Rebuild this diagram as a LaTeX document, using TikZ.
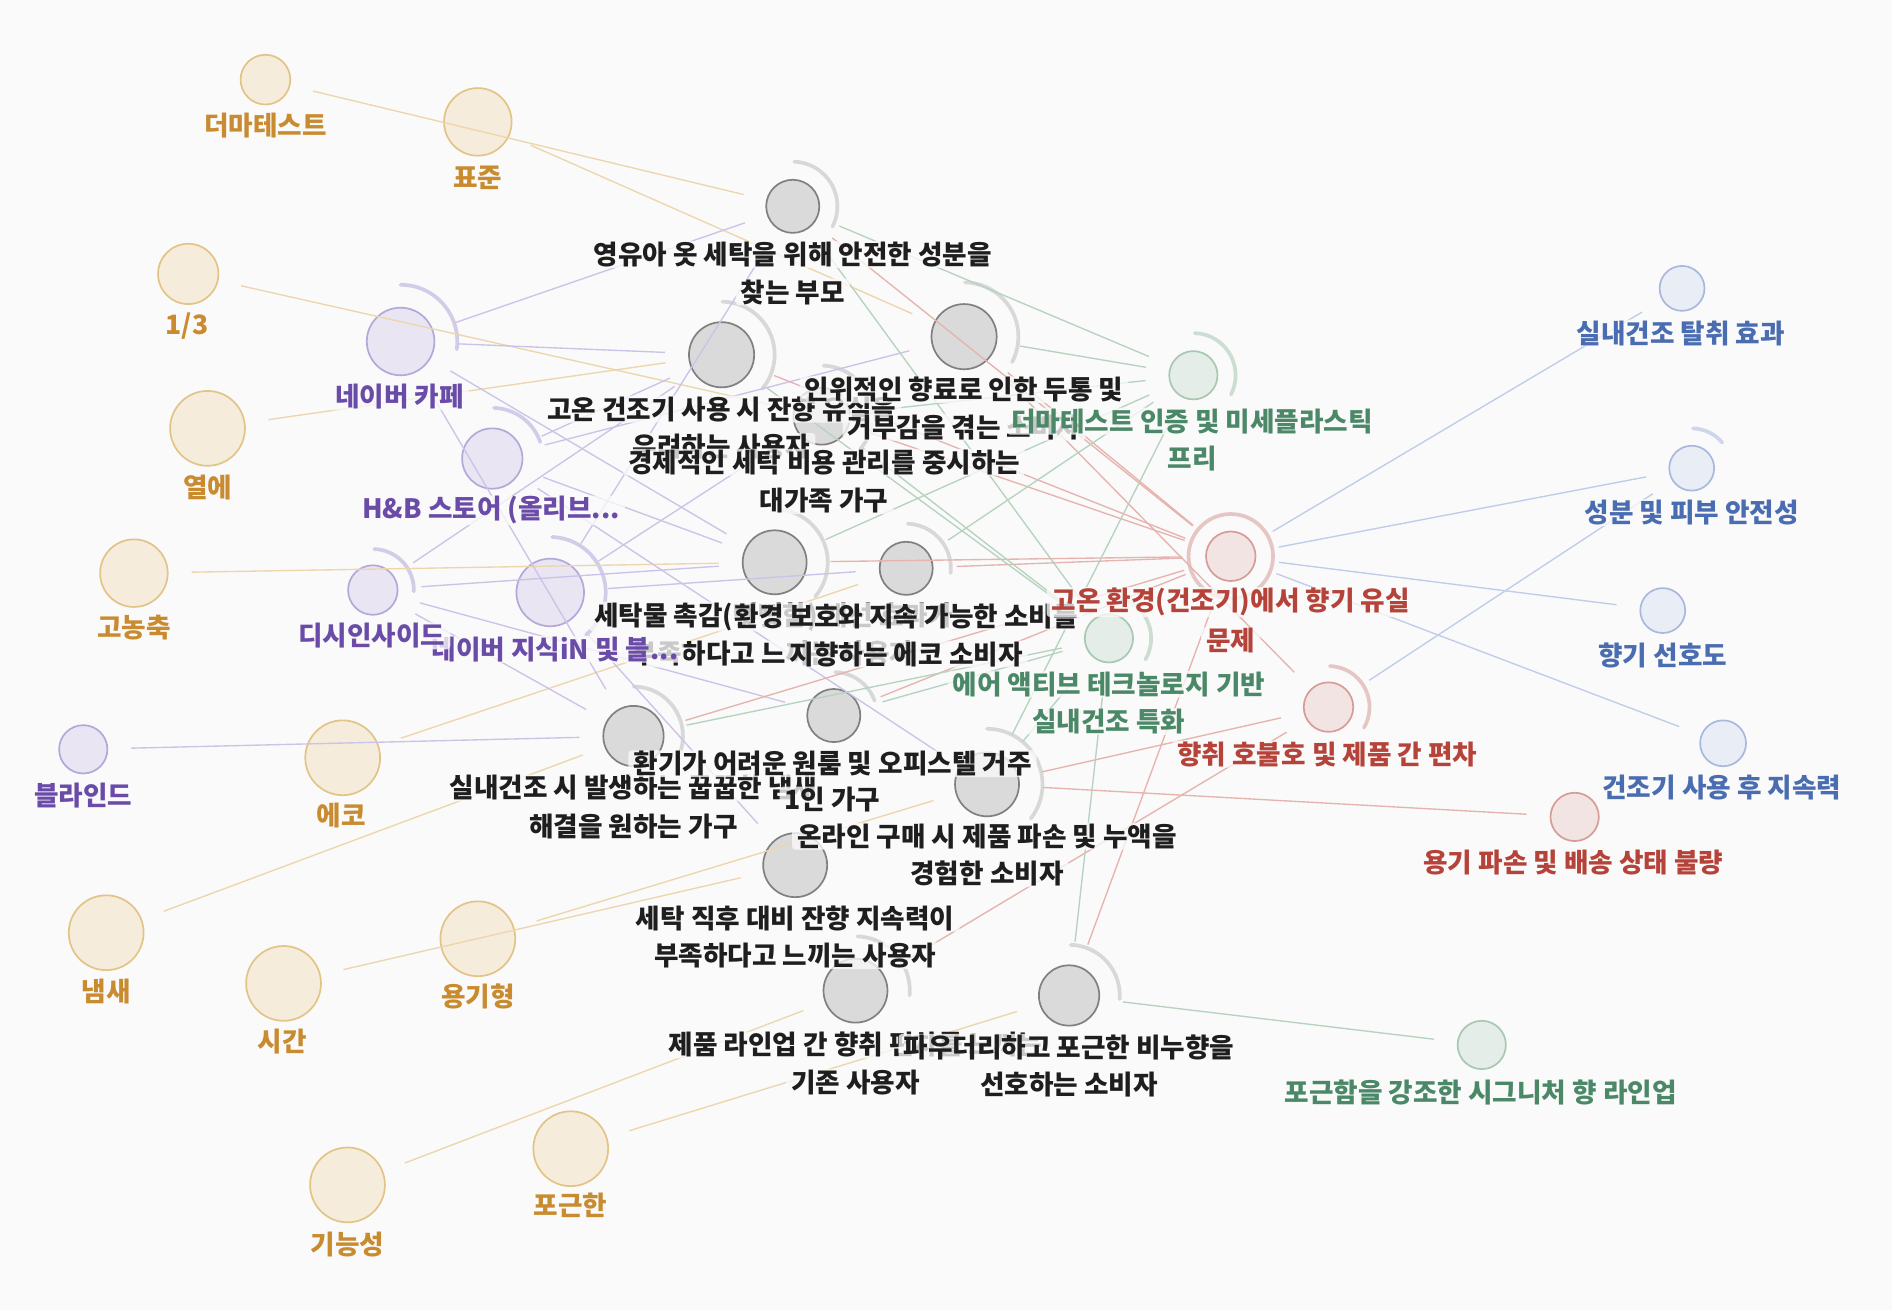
\documentclass[tikz,border=0pt]{standalone}
\usepackage{fontspec}
\setmainfont{Noto Sans CJK KR}
\usepackage{tikz}
\definecolor{bgc}{HTML}{FAFAFA}
\definecolor{kwfill}{HTML}{F5ECDC}
\definecolor{kwline}{HTML}{E3C487}
\definecolor{kwtext}{HTML}{C98B30}
\definecolor{kwedgec}{HTML}{EDD6AC}
\definecolor{chfill}{HTML}{E9E5F2}
\definecolor{chline}{HTML}{B4A8DA}
\definecolor{chtext}{HTML}{6A4CA8}
\definecolor{chedgec}{HTML}{CBC3E8}
\definecolor{pefill}{HTML}{DADADA}
\definecolor{peline}{HTML}{808080}
\definecolor{petext}{HTML}{1E1E1E}
\definecolor{pearc}{HTML}{BDBDBD}
\definecolor{fefill}{HTML}{E4EDE7}
\definecolor{feline}{HTML}{A8C8B2}
\definecolor{fetext}{HTML}{4B8867}
\definecolor{feedgec}{HTML}{B6D3BF}
\definecolor{pafill}{HTML}{F3E4E4}
\definecolor{paline}{HTML}{D69C98}
\definecolor{patext}{HTML}{B5433A}
\definecolor{paedgec}{HTML}{E6B4AE}
\definecolor{nefill}{HTML}{E9EDF5}
\definecolor{neline}{HTML}{A9B9DD}
\definecolor{netext}{HTML}{4A6CB0}
\definecolor{needgec}{HTML}{BFCCEA}
\tikzset{
    kwnode/.style={circle, draw=kwline, fill=kwfill, line width=1pt, inner sep=0pt, minimum size=#1*0.05cm},
    chnode/.style={circle, draw=chline, fill=chfill, line width=1pt, inner sep=0pt, minimum size=#1*0.05cm},
    penode/.style={circle, draw=peline, fill=pefill, line width=1pt, inner sep=0pt, minimum size=#1*0.05cm},
    fenode/.style={circle, draw=feline, fill=fefill, line width=1pt, inner sep=0pt, minimum size=#1*0.05cm},
    panode/.style={circle, draw=paline, fill=pafill, line width=1pt, inner sep=0pt, minimum size=#1*0.05cm},
    nenode/.style={circle, draw=neline, fill=nefill, line width=1pt, inner sep=0pt, minimum size=#1*0.05cm},
    halo/.style={draw=#1, line width=2.2pt, line cap=round, opacity=0.55},
    link/.style={draw=#1, line width=0.8pt, shorten <=0.48cm, shorten >=0.48cm},
    kwedge/.style={link=kwedgec},
    chedge/.style={link=chedgec},
    paedge/.style={link=paedgec},
    feedge/.style={link=feedgec},
    needge/.style={link=needgec},
    lbl/.style={fill=bgc, fill opacity=0.78, text opacity=1, rounded corners=2pt,
        inner xsep=3pt, inner ysep=0.5pt,
        font=\bfseries\fontsize{15.7}{22.4}\selectfont},
    kwlabel/.style={lbl, text=kwtext},
    chlabel/.style={lbl, text=chtext},
    pelabel/.style={lbl, text=petext},
    felabel/.style={lbl, text=fetext},
    palabel/.style={lbl, text=patext},
    nelabel/.style={lbl, text=netext},
}

\begin{document}
\begin{tikzpicture}[x=0.025cm, y=0.025cm]
\fill[bgc] (0,0) rectangle (1568,-1086);
\useasboundingbox (0,0) rectangle (1568,-1086);

% keywords
\node[kwnode=20.6] (dermatest) at (220,-66) {};
\node[kwnode=28] (pyojun) at (396,-101) {};
\node[kwnode=25] (onethird) at (156,-227) {};
\node[kwnode=31] (yeole) at (172,-355) {};
\node[kwnode=28] (gonong) at (111,-475) {};
\node[kwnode=31] (eco) at (284,-628) {};
\node[kwnode=31] (naemsae) at (88,-773) {};
\node[kwnode=31] (sigan) at (235,-815) {};
\node[kwnode=31] (yonggi) at (396,-778) {};
\node[kwnode=31] (gineung) at (288,-982) {};
\node[kwnode=31] (pogeun) at (473,-952) {};

% channels
\node[chnode=28] (cafe) at (332,-283) {};
\node[chnode=25] (hnb) at (408,-380) {};
\node[chnode=20.5] (dcinside) at (309,-489) {};
\node[chnode=28] (jisikin) at (456,-491) {};
\node[chnode=20] (blind) at (69,-621) {};

% personas
\node[penode=22] (baby) at (657,-171) {};
\node[penode=27] (dryloss) at (598,-294) {};
\node[penode=27] (headache) at (799,-279) {};
\node[penode=23.5] (economy) at (681,-345) {};
\node[penode=26.5] (texture) at (642,-466) {};
\node[penode=22] (ecoconsumer) at (751,-471) {};
\node[penode=25] (indoor) at (525,-610) {};
\node[penode=22] (single) at (691,-593) {};
\node[penode=26.5] (online) at (818,-650) {};
\node[penode=26.5] (lasting) at (659,-717) {};
\node[penode=26.5] (lineup) at (709,-821) {};
\node[penode=25] (powdery) at (886,-825) {};

% features, pains, needs
\node[fenode=20] (dermafree) at (989,-311) {};
\node[fenode=20] (airactive) at (919,-529) {};
\node[fenode=20] (signature) at (1228,-866) {};
\node[panode=20.5] (heatloss) at (1020,-461) {};
\node[panode=20.5] (prefgap) at (1101,-586) {};
\node[panode=20] (damage) at (1305,-677) {};
\node[nenode=18.6] (deodor) at (1394,-239) {};
\node[nenode=18.6] (safety) at (1402,-388) {};
\node[nenode=18.6] (scentpref) at (1378,-506) {};
\node[nenode=19] (afterdry) at (1428,-616) {};

% rings
\draw[halo=pearc] (baby.center) ++(88:37) arc[start angle=88, end angle=-27, radius=37];
\draw[halo=pearc] (dryloss.center) ++(89:44) arc[start angle=89, end angle=-40, radius=44];
\draw[halo=pearc] (headache.center) ++(89:45) arc[start angle=89, end angle=-28, radius=45];
\draw[halo=pearc] (economy.center) ++(88:42) arc[start angle=88, end angle=-41, radius=42];
\draw[halo=pearc] (texture.center) ++(85:44) arc[start angle=85, end angle=-40, radius=44];
\draw[halo=pearc] (ecoconsumer.center) ++(88:37) arc[start angle=88, end angle=-6, radius=37];
\draw[halo=pearc] (indoor.center) ++(90:41) arc[start angle=90, end angle=-20, radius=41];
\draw[halo=pearc] (single.center) ++(88:36) arc[start angle=88, end angle=20, radius=36];
\draw[halo=pearc] (online.center) ++(90:46) arc[start angle=90, end angle=-38, radius=46];
\draw[halo=pearc] (lineup.center) ++(88:45) arc[start angle=88, end angle=-5, radius=45];
\draw[halo=pearc] (powdery.center) ++(88:42) arc[start angle=88, end angle=-4, radius=42];
\draw[halo=chline] (cafe.center) ++(90:47) arc[start angle=90, end angle=-8, radius=47];
\draw[halo=chline] (hnb.center) ++(88:42) arc[start angle=88, end angle=19, radius=42];
\draw[halo=chline] (dcinside.center) ++(88:34) arc[start angle=88, end angle=-2, radius=34];
\draw[halo=chline] (jisikin.center) ++(88:46) arc[start angle=88, end angle=-50, radius=46];
\draw[halo=feline] (dermafree.center) ++(88:35) arc[start angle=88, end angle=-27, radius=35];
\draw[halo=feline] (airactive.center) ++(80:35) arc[start angle=80, end angle=-30, radius=35];
\draw[halo=paline] (heatloss.center) circle[radius=35];
\draw[halo=paline] (prefgap.center) ++(88:34) arc[start angle=88, end angle=-30, radius=34];
\draw[halo=neline] (safety.center) ++(88:33) arc[start angle=88, end angle=40, radius=33];

% links
\draw[kwedge] (dermatest) -- (baby);
\draw[kwedge] (pyojun) -- (headache);
\draw[kwedge] (onethird) -- (economy);
\draw[kwedge] (yeole) -- (dryloss);
\draw[kwedge] (gonong) -- (texture);
\draw[kwedge] (eco) -- (ecoconsumer);
\draw[kwedge] (naemsae) -- (indoor);
\draw[kwedge] (sigan) -- (lasting);
\draw[kwedge] (yonggi) -- (online);
\draw[kwedge] (gineung) -- (lineup);
\draw[kwedge] (pogeun) -- (powdery);

\draw[chedge] (cafe) -- (baby);
\draw[chedge] (cafe) -- (dryloss);
\draw[chedge] (cafe) -- (texture);
\draw[chedge] (cafe) -- (indoor);
\draw[chedge] (hnb) -- (dryloss);
\draw[chedge] (hnb) -- (headache);
\draw[chedge] (hnb) -- (texture);
\draw[chedge] (hnb) -- (online);
\draw[chedge] (dcinside) -- (dryloss);
\draw[chedge] (dcinside) -- (texture);
\draw[chedge] (dcinside) -- (indoor);
\draw[chedge] (dcinside) -- (single);
\draw[chedge] (jisikin) -- (baby);
\draw[chedge] (jisikin) -- (economy);
\draw[chedge] (jisikin) -- (ecoconsumer);
\draw[chedge] (jisikin) -- (lasting);
\draw[chedge] (blind) -- (indoor);

\draw[paedge] (baby) -- (heatloss);
\draw[paedge] (headache) -- (heatloss);
\draw[paedge] (dryloss) -- (heatloss);
\draw[paedge] (economy) -- (heatloss);
\draw[paedge] (texture) -- (heatloss);
\draw[paedge] (ecoconsumer) -- (heatloss);
\draw[paedge] (indoor) -- (heatloss);
\draw[paedge] (single) -- (heatloss);
\draw[paedge] (powdery) -- (heatloss);
\draw[paedge] (headache) -- (prefgap);
\draw[paedge] (lineup) -- (prefgap);
\draw[paedge] (online) -- (prefgap);
\draw[paedge] (online) -- (damage);

\draw[feedge] (baby) -- (dermafree);
\draw[feedge] (headache) -- (dermafree);
\draw[feedge] (economy) -- (dermafree);
\draw[feedge] (texture) -- (dermafree);
\draw[feedge] (ecoconsumer) -- (dermafree);
\draw[feedge] (online) -- (dermafree);
\draw[feedge] (indoor) -- (airactive);
\draw[feedge] (single) -- (airactive);
\draw[feedge] (economy) -- (airactive);
\draw[feedge] (dryloss) -- (airactive);
\draw[feedge] (baby) -- (airactive);
\draw[feedge] (online) -- (airactive);
\draw[feedge] (powdery) -- (airactive);
\draw[feedge] (powdery) -- (signature);

\draw[needge] (heatloss) -- (deodor);
\draw[needge] (heatloss) -- (safety);
\draw[needge] (heatloss) -- (scentpref);
\draw[needge] (heatloss) -- (afterdry);
\draw[needge] (prefgap) -- (safety);

% labels
\node[kwlabel] (dermatest-l) at (220,-104) {더마테스트};
\node[kwlabel] (pyojun-l) at (396,-147) {표준};
\node[kwlabel] (onethird-l) at (155,-270) {1/3};
\node[kwlabel] (yeole-l) at (172,-404) {열에};
\node[kwlabel] (gonong-l) at (111,-520) {고농축};
\node[kwlabel] (eco-l) at (283,-676) {에코};
\node[kwlabel] (naemsae-l) at (88,-822) {냄새};
\node[kwlabel] (sigan-l) at (234,-863) {시간};
\node[kwlabel] (yonggi-l) at (396,-826) {용기형};
\node[kwlabel] (gineung-l) at (288,-1031) {기능성};
\node[kwlabel] (pogeun-l) at (473,-999) {포근한};

\node[chlabel] (cafe-l) at (331,-329) {네이버 카페};
\node[chlabel] (hnb-l) at (407,-423) {H\&B 스토어 (올리브...};
\node[chlabel] (blind-l) at (69,-659) {블라인드};

\node[pelabel] (baby-l) at (657,-211) {영유아 옷 세탁을 위해 안전한 성분을};
\node[pelabel] (baby-l2) at (657,-242) {찾는 부모};
\node[pelabel] (dryloss-l) at (598,-339) {고온 건조기 사용 시 잔향 유실을};
\node[pelabel] (dryloss-l2) at (598,-370) {우려하는 사용자};
\node[pelabel] (headache-l) at (799,-323) {인위적인 향료로 인한 두통 및};
\node[pelabel] (headache-l2) at (799,-354) {거부감을 겪는 소비자};
\node[felabel] (dermafree-l) at (988,-349) {더마테스트 인증 및 미세플라스틱};
\node[felabel] (dermafree-l2) at (988,-380) {프리};
\node[pelabel] (economy-l) at (683,-383) {경제적인 세탁 비용 관리를 중시하는};
\node[pelabel] (economy-l2) at (683,-415) {대가족 가구};
\node[pelabel] (texture-l) at (641,-511) {세탁물 촉감(뻣뻣함) 개선 효과가};
\node[pelabel] (texture-l2) at (641,-542) {부족하다고 느끼는 사용자};
\node[chlabel] (jisikin-l) at (460,-538) {네이버 지식iN 및 블...};
\node[chlabel] (dcinside-l) at (308,-527) {디시인사이드};
\node[pelabel] (ecoconsumer-l) at (751,-511) {환경 보호와 지속 가능한 소비를};
\node[pelabel] (ecoconsumer-l2) at (751,-542) {지향하는 에코 소비자};
\node[palabel] (heatloss-l) at (1020,-499) {고온 환경(건조기)에서 향기 유실};
\node[palabel] (heatloss-l2) at (1020,-531) {문제};
\node[felabel] (airactive-l) at (919,-567) {에어 액티브 테크놀로지 기반};
\node[felabel] (airactive-l2) at (919,-598) {실내건조 특화};
\node[pelabel] (indoor-l) at (525,-653) {실내건조 시 발생하는 꿉꿉한 냄새};
\node[pelabel] (indoor-l2) at (525,-685) {해결을 원하는 가구};
\node[pelabel] (single-l) at (690,-633) {환기가 어려운 원룸 및 오피스텔 거주};
\node[pelabel] (single-l2) at (690,-663) {1인 가구};
\node[pelabel] (online-l) at (818,-693) {온라인 구매 시 제품 파손 및 누액을};
\node[pelabel] (online-l2) at (818,-724) {경험한 소비자};
\node[pelabel] (lasting-l) at (659,-761) {세탁 직후 대비 잔향 지속력이};
\node[pelabel] (lasting-l2) at (659,-792) {부족하다고 느끼는 사용자};
\node[pelabel] (lineup-l) at (709,-866) {제품 라인업 간 향취 편차를 느끼는};
\node[pelabel] (lineup-l2) at (709,-897) {기존 사용자};
\node[pelabel] (powdery-l) at (886,-868) {파우더리하고 포근한 비누향을};
\node[pelabel] (powdery-l2) at (886,-899) {선호하는 소비자};
\node[felabel] (signature-l) at (1227,-905) {포근함을 강조한 시그니처 향 라인업};
\node[palabel] (prefgap-l) at (1100,-625) {향취 호불호 및 제품 간 편차};
\node[palabel] (damage-l) at (1304,-715) {용기 파손 및 배송 상태 불량};
\node[nelabel] (deodor-l) at (1393,-276) {실내건조 탈취 효과};
\node[nelabel] (safety-l) at (1402,-425) {성분 및 피부 안전성};
\node[nelabel] (scentpref-l) at (1378,-543) {향기 선호도};
\node[nelabel] (afterdry-l) at (1427,-653) {건조기 사용 후 지속력};
\end{tikzpicture}
\end{document}
